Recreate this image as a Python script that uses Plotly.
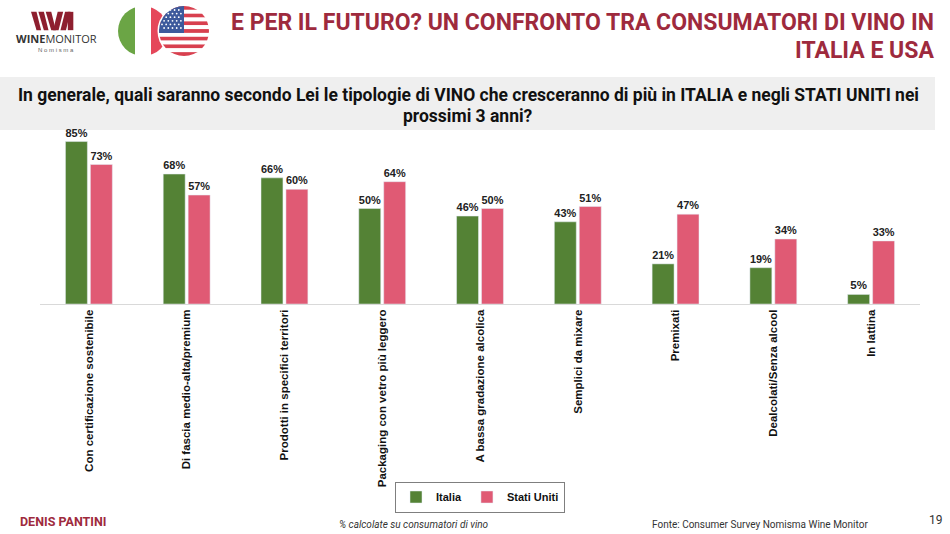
import base64
import plotly.graph_objects as go

# dati
categorie = [
    "Con certificazione sostenibile",
    "Di fascia medio-alta/premium",
    "Prodotti in specifici territori",
    "Packaging con vetro più leggero",
    "A bassa gradazione alcolica",
    "Semplici da mixare",
    "Premixati",
    "Dealcolati/Senza alcool",
    "In lattina",
]
italia = [85, 68, 66, 50, 46, 43, 21, 19, 5]
stati_uniti = [73, 57, 60, 64, 50, 51, 47, 34, 33]

VERDE = "#548235"
ROSA = "#E05A74"
BORDEAUX = "#9E2A3D"
FONT = "Liberation Sans, Arial, sans-serif"
FONT_TIT = "Roboto, Liberation Sans, sans-serif"

W, H = 950, 534
ML, MR, MT, MB = 40, 30, 132, 230


def px(x, y):
    """pixel -> coordinate paper"""
    return (x - ML) / (W - ML - MR), (H - MB - y) / (H - MT - MB)


def svg_uri(svg: str) -> str:
    return "data:image/svg+xml;base64," + base64.b64encode(svg.encode()).decode()


# bandiere (decorazione)
righe = "".join(
    f'<rect x="44" y="{2 + i * 50 / 13:.2f}" width="50" height="{50 / 13:.2f}" fill="{"#D8404F" if i % 2 == 0 else "#ffffff"}"/>'
    for i in range(13)
)
stelle = "".join(
    f'<circle cx="{47 + c * 4.2 + (r % 2) * 2.1:.1f}" cy="{6 + r * 3.6:.1f}" r="0.9" fill="#fff"/>'
    for r in range(6) for c in range(5)
)
flag_svg = f"""<svg xmlns="http://www.w3.org/2000/svg" width="95" height="56" viewBox="0 0 95 56">
<defs><clipPath id="it"><circle cx="28" cy="27" r="25"/></clipPath>
<clipPath id="us"><circle cx="69" cy="27" r="25"/></clipPath></defs>
<g clip-path="url(#it)"><rect x="3" y="2" width="17" height="50" fill="#6BA545"/>
<rect x="20" y="2" width="16" height="50" fill="#ffffff"/>
<rect x="36" y="2" width="17" height="50" fill="#E5475A"/></g>
<circle cx="69" cy="27" r="26.5" fill="#ffffff"/>
<g clip-path="url(#us)">{righe}<rect x="44" y="2" width="25" height="27" fill="#3D5A9C"/>{stelle}</g>
</svg>"""

logo_svg = """<svg xmlns="http://www.w3.org/2000/svg" width="50" height="24" viewBox="0 0 50 24">
<g fill="#8E1F2F">
<polygon points="0,2 6,2 11,22 6,22"/><polygon points="8,2 14,2 19,22 14,22"/>
<polygon points="16,2 22,2 27,22 22,22"/><polygon points="24,22 30,22 35,2 29,2"/>
<polygon points="32,22 38,22 43,2 37,2"/><polygon points="40,2 46,2 46,22 40,22"/>
</g></svg>"""

etichette = dict(family=FONT, size=11.5, color="#222222", weight="bold")

fig = go.Figure()
fig.add_trace(go.Bar(x=categorie, y=italia, name="Italia", marker_color=VERDE,
                     texttemplate="%{y}%", textposition="outside",
                     textfont=etichette, cliponaxis=False))
fig.add_trace(go.Bar(x=categorie, y=stati_uniti, name="Stati Uniti", marker_color=ROSA,
                     texttemplate="%{y}%", textposition="outside",
                     textfont=etichette, cliponaxis=False))

lx, ly = px(480, 497)
fig.update_layout(
    width=W, height=H, margin=dict(l=ML, r=MR, t=MT, b=MB),
    paper_bgcolor="white", plot_bgcolor="white",
    barmode="group", bargap=0.49, bargroupgap=0.12,
    font=dict(family=FONT, color="#111111"),
    showlegend=True,
    legend=dict(orientation="h", x=lx, y=ly, xanchor="center", yanchor="middle",
                bordercolor="#7f7f7f", borderwidth=1, itemwidth=30,
                font=dict(family=FONT, size=11, color="#111111", weight="bold")),
    xaxis=dict(showline=True, linecolor="#d9d9d9", linewidth=1, tickangle=-90,
               ticks="", showgrid=False,
               tickfont=dict(family=FONT, size=11.5, color="#111111", weight="bold")),
    yaxis=dict(range=[0, 90], visible=False, showgrid=False, zeroline=False),
)

# banda grigia della domanda
x0, y0 = px(0, 130)
x1, y1 = px(935, 77)
fig.add_shape(type="rect", xref="paper", yref="paper", x0=x0, y0=y0, x1=x1, y1=y1,
              fillcolor="#EFEFEF", line_width=0, layer="below")

ix, iy = px(115, 4)
fig.add_layout_image(source=svg_uri(flag_svg), xref="paper", yref="paper", x=ix, y=iy,
                     sizex=95 / (W - ML - MR), sizey=56 / (H - MT - MB),
                     xanchor="left", yanchor="top", sizing="stretch", layer="above")
gx, gy = px(31, 10)
fig.add_layout_image(source=svg_uri(logo_svg), xref="paper", yref="paper", x=gx, y=gy,
                     sizex=46 / (W - ML - MR), sizey=22 / (H - MT - MB),
                     xanchor="left", yanchor="top", sizing="stretch", layer="above")


def testo(x, y, t, size, color="#111111", xanchor="center", family=FONT, bold=False,
          italic=False, align="center"):
    ax, ay = px(x, y)
    fig.add_annotation(x=ax, y=ay, xref="paper", yref="paper", text=t, showarrow=False,
                       xanchor=xanchor, yanchor="middle", align=align,
                       font=dict(family=family, size=size, color=color,
                                 weight="bold" if bold else "normal",
                                 style="italic" if italic else "normal"))


testo(56, 39, "<b>WINE</b>MONITOR", 11, color="#333333", family="Open Sans, sans-serif")
testo(56, 50, "N o m i s m a", 6, color="#666666")
testo(936, 22, "E PER IL FUTURO? UN CONFRONTO TRA CONSUMATORI DI VINO IN", 23,
      color=BORDEAUX, xanchor="right", family=FONT_TIT, bold=True)
testo(936, 50, "ITALIA E USA", 23, color=BORDEAUX, xanchor="right", family=FONT_TIT, bold=True)
testo(468, 95, "In generale, quali saranno secondo Lei le tipologie di VINO che cresceranno di più in ITALIA e negli STATI UNITI nei",
      17.5, family=FONT_TIT, bold=True)
testo(468, 116, "prossimi 3 anni?", 17.5, family=FONT_TIT, bold=True)

testo(18, 521, "DENIS PANTINI", 12.5, color=BORDEAUX, xanchor="left", family=FONT_TIT, bold=True)
testo(414, 524, "% calcolate su consumatori di vino", 10, color="#333333", family=FONT_TIT, italic=True)
testo(760, 524, "Fonte: Consumer Survey Nomisma Wine Monitor", 10, color="#333333", family=FONT_TIT)
testo(936, 520, "19", 12, color="#333333", family=FONT_TIT)

fig.write_html("out.html", config={"displayModeBar": False},
               post_script="document.body.style.margin='0';")
